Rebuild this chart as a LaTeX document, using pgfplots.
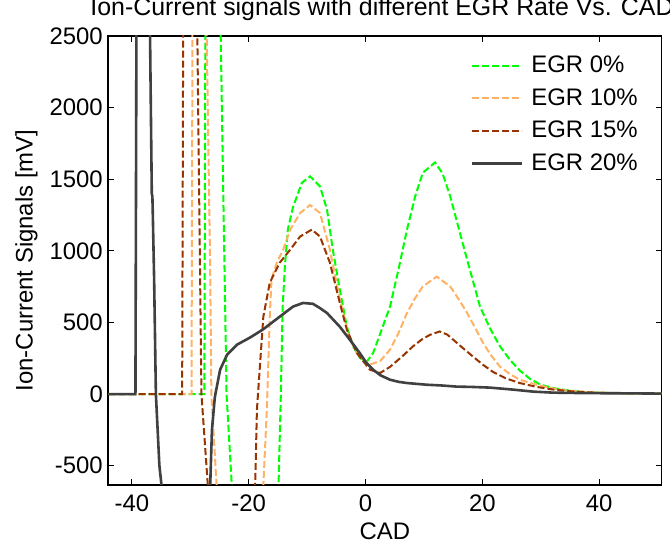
\documentclass[border=0pt]{standalone}
\usepackage{pgfplots}
\pgfplotsset{compat=1.18}
\usepackage{fontspec}
\setmainfont{Liberation Sans}
\definecolor{cgreen}{RGB}{0,255,0}
\definecolor{corange}{RGB}{255,178,102}
\definecolor{cbrown}{RGB}{153,51,0}
\definecolor{cblack}{RGB}{64,64,64}
\begin{document}
\begin{tikzpicture}
\begin{axis}[name=ax, scale only axis, width=553.6bp, height=449bp,
  xmin=-44.1, xmax=50.7, ymin=-635, ymax=2500,
  xtick={-40,-20,0,20,40}, ytick={-500,0,500,1000,1500,2000,2500},
  /pgf/number format/assume math mode=true, /pgf/number format/1000 sep={},
  scaled ticks=false,
  tick align=inside, major tick length=6bp,
  axis line style={line width=1.2bp, black},
  tick style={line width=1bp, black},
  font=\fontsize{24}{28}\selectfont,
  xticklabel style={anchor=base, inner sep=0pt, yshift=-26.7bp},
  yticklabel style={anchor=east, inner sep=0pt, xshift=-5bp},
  xlabel={CAD},
  xlabel style={at={(axis description cs:0.5,0)}, anchor=base, inner sep=0pt, yshift=-54bp},
  ylabel={Ion-Current Signals [mV]},
  ylabel style={at={(axis description cs:0,0.5)}, anchor=north, inner sep=0pt, yshift=93bp},
  title={Ion-Current signals with different EGR Rate Vs. CAD},
  title style={at={(axis description cs:0.495,1)}, anchor=base, inner sep=0pt, yshift=15bp,
    font=\fontsize{25}{30}\selectfont},
  legend cell align=left,
  legend style={at={(rel axis cs:0.655,0.957)}, anchor=north west, draw=none, fill=none,
    inner sep=0pt, row sep=12.1bp, column sep=0pt,
    nodes={inner sep=0pt, text height=17bp, text depth=3.5bp},
    font=\fontsize{24}{28}\selectfont},
  legend image code/.code={\draw[#1] (0bp,0bp) -- (50bp,0bp); \path (58bp,0bp);},
]
\addplot[cgreen, line width=2bp, dash pattern=on 7bp off 3bp] coordinates {
(-44,0) (-27.6,0) (-27.4,3000) (-25,3000) (-24.8,2500) (-23.8,0) (-22.9,-640) (-22.5,-1000)
(-15.3,-1000) (-14.9,-640) (-14.5,0) (-14.2,600) (-13.8,900) (-13.3,1150) (-12.4,1308)
(-10.9,1475) (-9.5,1520) (-7.8,1450) (-6.6,1290) (-5.6,1007) (-4.4,729) (-3.2,470)
(-2.1,330) (-0.9,250) (0.2,225) (1.3,287) (2.5,420) (4.2,611) (5.7,880) (7.1,1148) (8.5,1380) (9.8,1545)
(11.9,1617) (13.2,1540) (14.5,1380) (16,1150) (17.4,938) (19.6,611) (21.3,460) (23,335) (24.7,240) (26.4,165)
(28.2,105) (30,65) (32.4,40) (34.8,25) (37.7,12) (41,8) (45,5) (51,3)};
\addlegendentry{EGR 0\%}
\addplot[corange, line width=2bp, dash pattern=on 7bp off 3bp] coordinates {
(-44,0) (-29.8,0) (-29.6,3000) (-27.4,3000) (-27.2,2500) (-26.6,870) (-26.4,0) (-25.5,-640) (-25.2,-1000)
(-18,-1000) (-17.5,-640) (-16.9,-110) (-16.4,540) (-16.1,800) (-15.2,917) (-14.1,1008)
(-12.9,1148) (-11.2,1264) (-9.5,1320) (-7.8,1264) (-6.1,1008) (-4.4,659) (-2.7,380)
(-1,262) (0.75,206) (2.5,230) (4.2,310) (5.7,430) (7.1,566) (8.5,670) (9.8,751) (12.2,820) (14.5,751)
(16,660) (17.4,566) (18.8,460) (20.1,359) (21.5,270) (23,192) (24.7,140) (26.4,100) (29.3,65) (32,40) (35,22) (40,10) (45,5) (51,3)};
\addlegendentry{EGR 10\%}
\addplot[cbrown, line width=2bp, dash pattern=on 7bp off 3bp] coordinates {
(-44,0) (-31.4,0) (-31.2,3000) (-29,3000) (-28.8,2500) (-28.1,0) (-27,-640) (-26.7,-1000)
(-19.3,-1000) (-18.9,-640) (-18.6,-110) (-17.5,540) (-16.4,777) (-14.7,917) (-12.9,1008)
(-11.2,1100) (-9.2,1148) (-7.8,1100) (-6.1,917) (-4.4,636) (-3.2,450) (-1.5,287)
(0.75,170) (2.5,147) (4.2,190) (6.2,260) (8.1,332) (9.6,380) (11,413) (12.7,437) (14,415) (15,380)
(16.7,320) (18.4,262) (20.1,205) (21.8,155) (24,110) (26.4,77) (29.3,50) (32,32) (35,20) (40,8) (45,5) (51,3)};
\addlegendentry{EGR 15\%}
\addplot[cblack, line width=2.6bp] coordinates {
(-44,0) (-39.4,0) (-39.2,3000) (-37.1,3000) (-36.9,2500) (-36.6,1400) (-36.5,1380) (-36.45,1300)
(-36.2,800) (-35.9,0) (-35.3,-500) (-34.9,-650) (-34.5,-1000)
(-27,-1000) (-26.6,-640) (-26.3,-250) (-25.8,-20) (-24.9,170) (-23.7,275) (-22,345)
(-19.8,394) (-17.6,450) (-14.7,540) (-12.4,611) (-10.7,636) (-9,630) (-7.8,600) (-6.6,566)
(-4.4,470) (-2.7,380) (-1,287) (0.2,215) (1.3,170) (2.6,130) (4.2,100) (5.7,85) (7.1,77) (10.5,65)
(13,60) (15.6,52) (18,50) (21.3,45) (25,32) (28.7,17) (32,10) (35,8) (40,6) (45,5) (51,3)};
\addlegendentry{EGR 20\%}
\end{axis}
\pgfresetboundingbox
\path ([shift={(-108bp,-66bp)}]ax.south west) rectangle ([shift={(8.4bp,36bp)}]ax.north east);
\end{tikzpicture}
\end{document}
